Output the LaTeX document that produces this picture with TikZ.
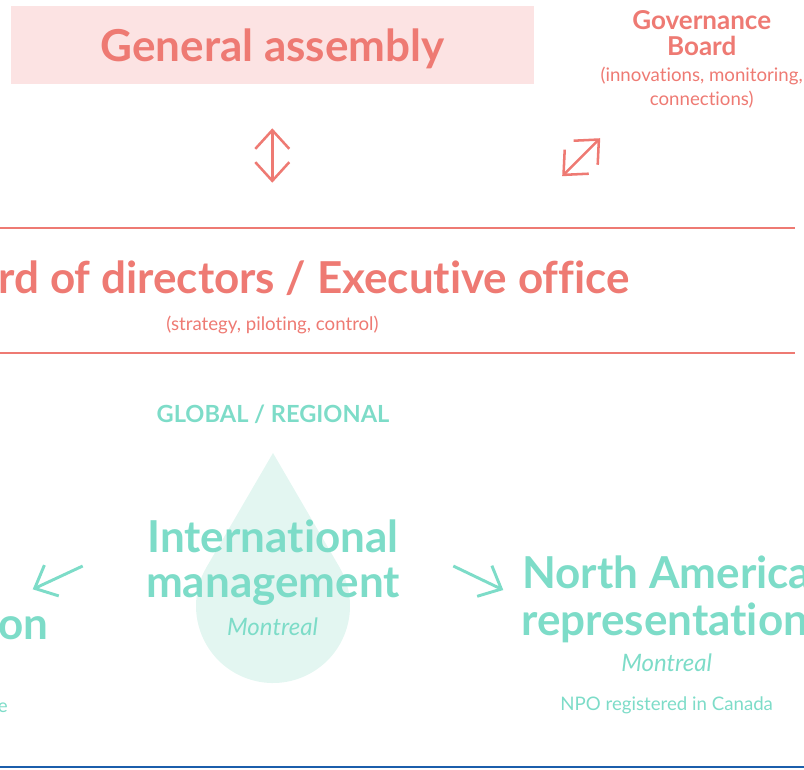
\documentclass[tikz,border=0pt]{standalone}
\usepackage{fontspec}
\setmainfont{Lato}[Ligatures = NoCommon]
\usetikzlibrary{arrows.meta}

\definecolor{coral}{HTML}{EE7A73}
\definecolor{blush}{HTML}{FCE3E3}
\definecolor{mint}{HTML}{7DDCC8}
\definecolor{mintpale}{HTML}{E3F6F1}
\definecolor{navy}{HTML}{1B5EAB}

\tikzset{
	big/.style = {font = \bfseries\fontsize{33}{37}\selectfont, inner sep = 0pt},
	mid/.style = {font = \bfseries\fontsize{19.5}{22}\selectfont, inner sep = 0pt},
	note/.style = {font = \fontsize{14}{18}\selectfont, inner sep = 0pt},
	town/.style = {font = \itshape\fontsize{18}{20}\selectfont, inner sep = 0pt},
}

\begin{document}
\begin{tikzpicture}[x = 0.75pt, y = -0.75pt, > = {Straight Barb[length = 14pt, width = 25.5pt]}]

	% Frame
	
	\useasboundingbox (0, 0) rectangle (804, 769);
	\clip (0, 0) rectangle (804, 769);
	
	\def\R{77}		% Radius of the drop
	
	% General assembly and governance board
	
	\fill [blush] (11, 6) rectangle (534, 84);
	\node [big, coral, anchor = base] (assembly) at (272.5, 61.7) {General assembly};
	
	\node [mid, coral, anchor = base] (board1) at (701.7, 29) {Governance};
	\node [mid, coral, anchor = base] (board2) at (701.7, 55) {Board};
	\node [note, coral, anchor = base] (boardnote1) at (701.7, 81.7) {(innovations, monitoring,};
	\node [note, coral, anchor = base] (boardnote2) at (701.7, 105.5) {connections)};
	
	\coordinate (ga top) at (272.3, 128.3);
	\coordinate (ga bottom) at (272.3, 182.7);
	\draw [<->, coral, line width = 1.9pt] (ga top) -- (ga bottom);
	
	\coordinate (gb ne) at (600.2, 138.2);
	\coordinate (gb sw) at (562.2, 176.2);
	\draw [<->, coral, line width = 1.9pt] (gb sw) -- (gb ne);
	
	% Board of directors band
	
	\draw [coral, line width = 1.6pt] (0, 228) -- (795, 228);
	\draw [coral, line width = 1.6pt] (0, 353) -- (795, 353);
	
	\node [big, coral, anchor = base east] (directors) at (630, 293) {rd of directors / Executive office};
	\node [note, coral, anchor = base] (directorsnote) at (272.5, 330) {(strategy, piloting, control)};
	
	% International management drop
	
	\node [mid, mint, font = \bfseries\fontsize{17.7}{20}\selectfont, anchor = base] (scope) at (273, 422) {GLOBAL / REGIONAL};
	
	\fill [mintpale] (273, 606) ++(-30.2 : \R) arc [start angle = -30.2, end angle = 210.2, radius = \R] -- (273, 453) -- cycle;
	
	\node [big, mint, anchor = base] (intl1) at (273, 552) {International};
	\node [big, mint, anchor = base] (intl2) at (273, 597) {management};
	\node [town, mint, anchor = base] (intltown) at (272.5, 635) {Montreal};
	
	% Side representations
	
	\coordinate (west start) at (82.7, 566);
	\coordinate (west end) at (32.7, 589.3);
	\draw [->, mint, line width = 2.2pt] (west start) -- (west end);
	
	\coordinate (east start) at (453.3, 566);
	\coordinate (east end) at (503.3, 590);
	\draw [->, mint, line width = 2.2pt] (east start) -- (east end);
	
	\node [big, mint, anchor = base east] (west) at (49, 639) {on};
	\node [note, mint, anchor = base east] (westnote) at (8, 712) {e};
	
	\node [big, mint, anchor = base west] (east1) at (522, 588) {North America};
	\node [big, mint, anchor = base west] (east2) at (521, 635) {representation};
	\node [town, mint, anchor = base] (easttown) at (666.7, 671.7) {Montreal};
	\node [note, mint, anchor = base] (eastnote) at (666.7, 710) {NPO registered in Canada};
	
	% Bottom rule
	
	\draw [navy, line width = 2.2pt] (0, 767) -- (804, 767);

\end{tikzpicture}
\end{document}
